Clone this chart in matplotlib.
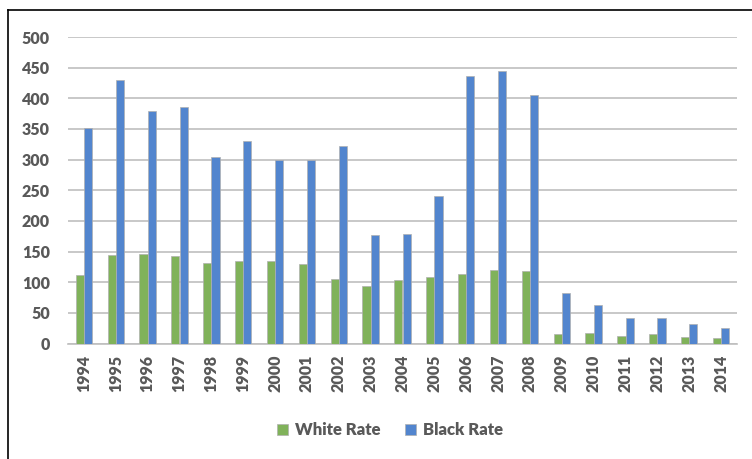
import matplotlib.pyplot as plt
import numpy as np
from matplotlib.lines import Line2D

years = ['1994', '1995', '1996', '1997', '1998', '1999', '2000', '2001', '2002', '2003', '2004',
         '2005', '2006', '2007', '2008', '2009', '2010', '2011', '2012', '2013', '2014']
white_rate = [111, 144, 146, 142, 132, 134, 134, 130, 105, 93, 103,
              108, 114, 120, 118, 15, 17, 13, 15, 10, 9]
black_rate = [352, 430, 379, 385, 305, 331, 300, 300, 323, 177, 179,
              241, 437, 445, 405, 83, 62, 41, 41, 31, 25]

plt.rcParams['font.family'] = ['Lato', 'DejaVu Sans']
txt = '#595959'

fig = plt.figure(figsize=(7.52, 4.59), dpi=100)
ax = fig.add_axes([68 / 752, 1 - 343.5 / 459, (737 - 68) / 752, (343.5 - 37) / 459])

x = np.arange(len(years))
w = 0.26
ax.bar(x - w / 2, white_rate, w, color='#80B25A', edgecolor='#B0B0B0', linewidth=0.5,
       label='White Rate', zorder=3)
ax.bar(x + w / 2, black_rate, w, color='#5285CE', edgecolor='#B0B0B0', linewidth=0.5,
       label='Black Rate', zorder=3)

ax.set_xlim(-0.5, len(years) - 0.5)
ax.set_ylim(0, 500)
ax.set_yticks(range(0, 501, 50))
ax.yaxis.grid(True, color='#BFBFBF', linewidth=1.2, zorder=0)
ax.set_xticks(x)
ax.set_xticklabels(years, rotation=90, fontsize=11.5, fontweight='heavy', color=txt)
for lbl in ax.get_yticklabels():
    lbl.set_fontsize(11.5)
    lbl.set_fontweight('heavy')
    lbl.set_color(txt)
ax.tick_params(length=0, pad=13)
ax.tick_params(axis='x', pad=8)
for s in ['top', 'right', 'left']:
    ax.spines[s].set_visible(False)
ax.spines['bottom'].set_color('#BFBFBF')
ax.spines['bottom'].set_linewidth(1.2)

fig.legend(loc='center', bbox_to_anchor=(390 / 752, 1 - 430 / 459), ncol=2, frameon=False,
           prop={'size': 12, 'weight': 'heavy'}, labelcolor=txt, handlelength=0.65,
           handleheight=0.65, columnspacing=1.5, handletextpad=0.4)

# frame lines at left and top of the image
fig.add_artist(Line2D([8 / 752, 8 / 752], [0, 1 - 10 / 459], color='black', linewidth=1.2))
fig.add_artist(Line2D([8 / 752, 1], [1 - 10 / 459, 1 - 10 / 459], color='black', linewidth=1.2))

fig.savefig('out.png', dpi=100)
